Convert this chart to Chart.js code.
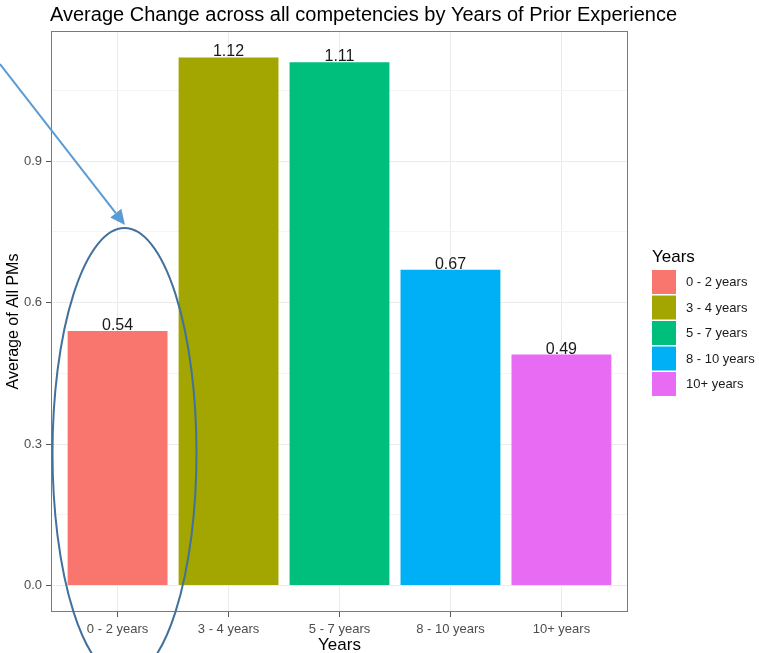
<!DOCTYPE html>
<html><head><meta charset="utf-8">
<script src="https://cdn.jsdelivr.net/npm/chart.js@4"></script>
<style>html,body{margin:0;padding:0;background:#fff;}canvas{display:block;}</style>
</head><body>
<canvas id="c" width="759" height="653"></canvas>
<script>
const categories = ['0 - 2 years', '3 - 4 years', '5 - 7 years', '8 - 10 years', '10+ years'];
const values = [0.54, 1.12, 1.11, 0.67, 0.49];
const colors = ['#F8766D', '#A3A500', '#00BF7D', '#00B0F6', '#E76BF3'];
const yMajorTicks = [0, 0.3, 0.6, 0.9];
const yMinorTicks = [0.15, 0.45, 0.75, 1.05];
const titleText = 'Average Change across all competencies by Years of Prior Experience';
const xTitle = 'Years';
const yTitle = 'Average of All PMs';
const legendTitle = 'Years';

const FONT = '"Liberation Sans", Arial, sans-serif';
const yMax = Math.max(...values);
const yPad = yMax * 0.05;

const bgPlugin = {
  id: 'bg',
  beforeDraw(chart) {
    const ctx = chart.ctx;
    ctx.save(); ctx.fillStyle = '#fff'; ctx.fillRect(0, 0, chart.width, chart.height); ctx.restore();
  }
};

const decor = {
  id: 'decor',
  afterDraw(chart) {
    const ctx = chart.ctx;
    const a = chart.chartArea;
    ctx.save();
    // panel border
    ctx.strokeStyle = '#7a7a7a'; ctx.lineWidth = 1;
    ctx.strokeRect(Math.round(a.left) + 0.5, Math.round(a.top) + 0.5, Math.round(a.right - a.left) - 1, Math.round(a.bottom - a.top) - 1);
    // value labels
    const meta = chart.getDatasetMeta(0);
    ctx.fillStyle = '#1a1a1a'; ctx.font = '16px ' + FONT; ctx.textAlign = 'center'; ctx.textBaseline = 'alphabetic';
    meta.data.forEach((bar, i) => {
      ctx.fillText(values[i].toFixed(2), bar.x, bar.y - 1);
    });
    // title
    ctx.fillStyle = '#000'; ctx.font = '20px ' + FONT; ctx.textAlign = 'left'; ctx.textBaseline = 'middle';
    ctx.fillText(titleText, 50, 15);
    // axis titles
    ctx.font = '17px ' + FONT; ctx.textAlign = 'center';
    ctx.fillText(xTitle, (a.left + a.right) / 2, 645);
    ctx.font = '16px ' + FONT;
    ctx.save(); ctx.translate(14, (a.top + a.bottom) / 2); ctx.rotate(-Math.PI / 2);
    ctx.fillText(yTitle, 0, 0); ctx.restore();
    // legend
    ctx.font = '17px ' + FONT; ctx.textAlign = 'left';
    ctx.fillText(legendTitle, 652, 257);
    ctx.font = '13px ' + FONT;
    categories.forEach((c, i) => {
      const y = 270 + i * 25.5;
      ctx.fillStyle = colors[i];
      ctx.fillRect(652, y, 24, 24);
      ctx.fillStyle = '#1a1a1a';
      ctx.fillText(c, 686, y + 12.5);
    });
    // annotations: arrow
    ctx.strokeStyle = '#5B9BD5'; ctx.fillStyle = '#5B9BD5'; ctx.lineWidth = 2;
    const x0 = 0, y0 = 64, x1 = 125, y1 = 225;
    const ang = Math.atan2(y1 - y0, x1 - x0);
    const hl = 15, hw = 7;
    const bx = x1 - hl * Math.cos(ang), by = y1 - hl * Math.sin(ang);
    ctx.beginPath(); ctx.moveTo(x0, y0); ctx.lineTo(bx, by); ctx.stroke();
    ctx.beginPath(); ctx.moveTo(x1, y1);
    ctx.lineTo(bx + hw * Math.sin(ang), by - hw * Math.cos(ang));
    ctx.lineTo(bx - hw * Math.sin(ang), by + hw * Math.cos(ang));
    ctx.closePath(); ctx.fill();
    // ellipse
    ctx.strokeStyle = '#41719C'; ctx.lineWidth = 2;
    ctx.beginPath(); ctx.ellipse(124.5, 453, 72, 225, 0, 0, Math.PI * 2); ctx.stroke();
    ctx.restore();
  }
};

new Chart(document.getElementById('c'), {
  type: 'bar',
  data: {
    datasets: [{
      data: values.map((v, i) => ({ x: i, y: v })),
      backgroundColor: colors,
      borderWidth: 0,
      barPercentage: 0.9,
      categoryPercentage: 1.0
    }]
  },
  options: {
    responsive: false,
    animation: false,
    events: [],
    layout: { padding: { left: 0, top: 31, right: 131, bottom: 0 } },
    plugins: { legend: { display: false }, tooltip: { enabled: false }, title: { display: false } },
    scales: {
      x: {
        type: 'linear',
        offset: false,
        min: -0.6,
        max: categories.length - 1 + 0.6,
        afterBuildTicks(scale) { scale.ticks = categories.map((c, i) => ({ value: i })); },
        afterFit(scale) { scale.height = 41; },
        ticks: {
          autoSkip: false, maxRotation: 0, padding: 5,
          color: '#4D4D4D', font: { family: FONT, size: 13 },
          callback: (v) => categories[v]
        },
        grid: { offset: false, color: '#EBEBEB', lineWidth: 1, tickLength: 5, tickColor: '#555', drawTicks: true },
        border: { display: false }
      },
      y: {
        type: 'linear',
        min: -yPad,
        max: yMax + yPad,
        afterBuildTicks(scale) {
          scale.ticks = yMajorTicks.concat(yMinorTicks).sort((a, b) => a - b).map(v => ({ value: v }));
        },
        afterFit(scale) { scale.width = 51; },
        ticks: {
          autoSkip: false, padding: 4,
          color: '#4D4D4D', font: { family: FONT, size: 13 },
          callback: (v) => yMajorTicks.some(t => Math.abs(t - v) < 1e-9) ? v.toFixed(1) : ''
        },
        grid: {
          color: (c) => (c.tick && yMinorTicks.some(t => Math.abs(t - c.tick.value) < 1e-9)) ? '#F4F4F4' : '#EBEBEB',
          lineWidth: 1, tickLength: 5,
          tickColor: (c) => (c.tick && yMinorTicks.some(t => Math.abs(t - c.tick.value) < 1e-9)) ? 'rgba(0,0,0,0)' : '#555'
        },
        border: { display: false }
      }
    }
  },
  plugins: [bgPlugin, decor]
});
</script>
</body></html>
